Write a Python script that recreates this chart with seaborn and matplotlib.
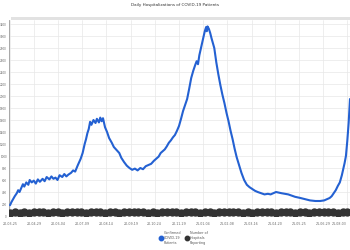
import numpy as np
import pandas as pd
import matplotlib
matplotlib.use("Agg")
import matplotlib.pyplot as plt
from matplotlib.lines import Line2D
from matplotlib.patches import Rectangle
import seaborn as sns

title = "Daily Hospitalizations of COVID-19 Patients"
start_date = "2020-03-25"

# confirmed COVID-19 patients: day offset from start_date, value
conf_days = [0, 2, 4, 7, 10, 12, 14, 17, 19, 21, 24, 27, 29, 32, 35, 38, 41, 44, 48, 51,
             54, 58, 61, 64, 67, 70, 73, 77, 80, 83, 86, 90, 93, 96, 100, 104, 107, 110, 112, 114,
             116, 118, 120, 123, 126, 128, 131, 133, 135, 137, 140, 143, 146, 150, 153, 157, 161, 164, 168, 172,
             176, 180, 184, 188, 192, 196, 200, 204, 208, 212, 216, 219, 222, 225, 228, 231, 234, 237, 240, 243,
             246, 249, 252, 255, 258, 261, 264, 267, 270, 273, 275, 277, 279, 281, 283, 285, 287, 289, 290, 291,
             293, 295, 297, 299, 301, 304, 307, 310, 313, 316, 319, 322, 325, 328, 331, 334, 337, 341, 345, 349,
             353, 357, 361, 365, 370, 375, 380, 384, 388, 392, 396, 400, 405, 410, 415, 420, 428, 435, 442, 450,
             457, 463, 467, 471, 474, 477, 480, 483, 486, 489, 491, 493, 495, 497, 499, 501]
conf_vals = [180, 230, 270, 330, 380, 430, 400, 480, 530, 490, 560, 520, 600, 560, 590, 540, 610, 570, 620, 580,
             650, 610, 660, 620, 640, 600, 680, 650, 700, 660, 690, 720, 760, 740, 850, 950, 1050, 1200, 1280, 1380,
             1450, 1570, 1520, 1600, 1550, 1620, 1560, 1640, 1580, 1630, 1480, 1400, 1300, 1220, 1150, 1100, 1050, 970, 900, 840,
             800, 770, 790, 760, 800, 780, 830, 850, 870, 920, 960, 990, 1050, 1080, 1110, 1160, 1220, 1260, 1310, 1350,
             1420, 1500, 1620, 1750, 1850, 1950, 2120, 2300, 2420, 2520, 2580, 2530, 2680, 2780, 2880, 2980, 3080, 3150, 3080, 3160,
             3120, 3050, 2960, 2880, 2800, 2560, 2360, 2180, 2020, 1880, 1720, 1580, 1420, 1280, 1120, 980, 870, 720, 600, 520,
             480, 450, 420, 400, 380, 360, 370, 360, 380, 400, 390, 380, 370, 360, 340, 320, 300, 280, 260, 250,
             250, 260, 280, 300, 330, 380, 430, 500, 560, 680, 780, 880, 1000, 1250, 1550, 1950]

# number of hospitals reporting (weekly readings)
hosp_vals = [52, 60, 58, 62, 57, 61, 59, 63, 58, 60, 62, 57, 61, 59, 63, 60, 58, 62, 59, 61,
             57, 63, 60, 58, 62, 59, 61, 60, 63, 58, 62, 57, 61, 59, 63, 60, 58, 62, 59, 61,
             57, 63, 60, 58, 62, 59, 61, 60, 63, 58, 62, 57, 61, 59, 63, 60, 58, 62, 59, 61,
             57, 63, 60, 58, 62, 59, 61, 60, 63, 58, 62, 60]

tick_labels = ["20-03-25", "20-04-29", "20-06-04", "20-07-09", "20-08-14", "20-09-19", "20-10-24",
               "20-11-29", "21-01-04", "21-02-08", "21-03-16", "21-04-20", "21-05-25", "21-06-29", "21-08-03"]
y_ticks = list(range(0, 3201, 200))

legend_labels = ["Confirmed\nCOVID-19\nPatients", "Number of\nHospitals\nReporting"]
blue = "#2461d2"
dark = "#333333"

t0 = pd.Timestamp(start_date)
df_c = pd.DataFrame({"date": t0 + pd.to_timedelta(conf_days, unit="D"), "value": conf_vals})
df_h = pd.DataFrame({"date": t0 + pd.to_timedelta(np.arange(len(hosp_vals)) * 7, unit="D"), "value": hosp_vals})

sns.set_theme(style="white")
plt.rcParams["font.family"] = ["DejaVu Sans"]

fig = plt.figure(figsize=(3.5, 2.5), dpi=100)
left_px = 9
ax = fig.add_axes([left_px / 350, 34 / 250, 1 - left_px / 350, (216 - 20) / 250])

sns.lineplot(data=df_h, x="date", y="value", ax=ax, color=dark, lw=2.5, marker="o",
             markersize=6, markeredgewidth=0, zorder=3)
sns.lineplot(data=df_c, x="date", y="value", ax=ax, color=blue, lw=1.5, zorder=4)

ax.set_xlim(t0 - pd.Timedelta(days=1.5), t0 + pd.Timedelta(days=501))
ax.set_ylim(0, 3267)
tick_dates = pd.to_datetime(["20" + s for s in tick_labels])
ax.set_xticks(tick_dates)
ax.set_xticklabels(tick_labels, fontsize=2.3, color="#666666")
xt = ax.get_xticklabels()
xt[-1].set_horizontalalignment("right")
ax.set_yticks(y_ticks)
ax.set_yticklabels([str(v) for v in y_ticks], fontsize=2.0, color="#666666")
ax.tick_params(axis="x", length=0, pad=4)
ax.tick_params(axis="y", length=1, width=0.4, color="#888888", pad=0.5)
ax.set_xlabel("")
ax.set_ylabel("")
ax.grid(True, color="#e8e8e8", lw=0.5)
ax.set_axisbelow(True)
for side in ["top", "right", "bottom"]:
    ax.spines[side].set_visible(False)
ax.spines["left"].set_color("#999999")
ax.spines["left"].set_linewidth(0.6)

fig.add_artist(Rectangle(((left_px + 2) / 350, (250 - 20) / 250), 1, 3 / 250, transform=fig.transFigure,
                         color="#e2e2e2", lw=0))
fig.text(0.5, 1 - 5 / 250, title, ha="center", va="center", fontsize=3.0, color="#333333")

handles = [Line2D([], [], ls="none", marker="o", color=blue, markersize=3.2),
           Line2D([], [], ls="none", marker="o", color=dark, markersize=3.2)]
fig.legend(handles, legend_labels, loc="center", bbox_to_anchor=(0.525, 1 - 238 / 250), ncol=2,
           frameon=False, fontsize=2.4, labelcolor="#555555", handlelength=0.6, handletextpad=0.4,
           columnspacing=1.6)

fig.savefig("out.png", dpi=100)
